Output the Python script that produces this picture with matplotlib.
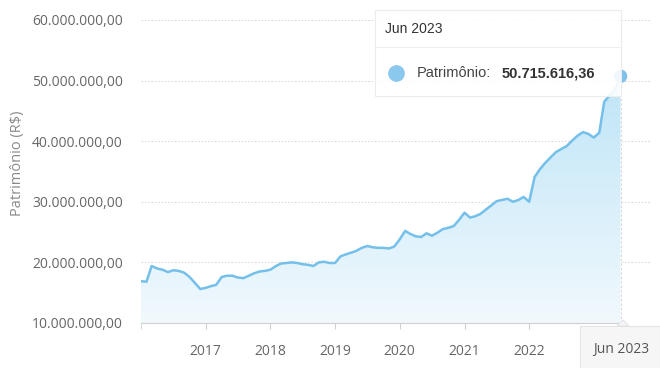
import datetime as dt

import matplotlib
matplotlib.use("Agg")
import matplotlib.pyplot as plt
import matplotlib.dates as mdates
import numpy as np
from matplotlib.lines import Line2D
from matplotlib.patches import FancyBboxPatch, Polygon
from matplotlib.ticker import FuncFormatter

# Patrimônio mensal (milhões de R$), jan/2016 a jun/2023
months = [dt.date(2016 + i // 12, i % 12 + 1, 1) for i in range(90)]
patrimonio_mi = [
    16.9, 16.8, 19.4, 19.0, 18.8, 18.4, 18.7, 18.6, 18.3, 17.6, 16.6, 15.6,
    15.8, 16.1, 16.3, 17.6, 17.8, 17.8, 17.5, 17.4, 17.8, 18.2, 18.5, 18.6,
    18.8, 19.4, 19.8, 19.9, 20.0, 19.9, 19.7, 19.6, 19.4, 20.0, 20.1, 19.9,
    19.9, 21.0, 21.3, 21.6, 21.9, 22.4, 22.7, 22.5, 22.4, 22.4, 22.3, 22.6,
    23.8, 25.2, 24.7, 24.3, 24.2, 24.8, 24.4, 24.9, 25.5, 25.7, 26.0, 27.0,
    28.2, 27.4, 27.6, 28.0, 28.7, 29.4, 30.1, 30.3, 30.5, 30.0, 30.3, 30.8,
    30.0, 34.1, 35.3, 36.4, 37.3, 38.2, 38.7, 39.2, 40.1, 40.9, 41.5, 41.2,
    40.6, 41.4, 46.5, 47.6, 48.5, 50.71561636,
]
year_ticks = [2017, 2018, 2019, 2020, 2021, 2022]
y_ticks = [10e6, 20e6, 30e6, 40e6, 50e6, 60e6]

values = np.array(patrimonio_mi) * 1e6
xs = mdates.date2num(months)
last_label = "Jun 2023"
last_value = "50.715.616,36"

LINE = "#74c0ea"
GRID = "#dcdcdc"
TEXT = "#666666"


def brl(v, _pos=None):
    s = f"{v:,.2f}"
    return s.replace(",", "X").replace(".", ",").replace("X", ".")


def fx(px):
    return px / 660


def fy(py):
    return 1 - py / 368


fig = plt.figure(figsize=(6.6, 3.68), dpi=100)
ax = fig.add_axes([0.2136, 0.1223, 0.7714, 0.8234])

x_right = mdates.date2num(dt.date(2023, 11, 15))
ax.set_xlim(xs[0], x_right)
ax.set_ylim(10e6, 60e6)

# gradient area under the line
grad = np.linspace(0, 1, 256).reshape(-1, 1, 1)
top = np.array(matplotlib.colors.to_rgb("#bde4f7"))
bot = np.array(matplotlib.colors.to_rgb("#f1f9fd"))
img = top * (1 - grad) + bot * grad
im = ax.imshow(img, extent=[xs[0], xs[-1], 10e6, 52e6], aspect="auto",
               origin="upper", zorder=1)
poly = Polygon(np.column_stack([np.r_[xs, xs[-1], xs[0]],
                                np.r_[values, 10e6, 10e6]]),
               closed=True, transform=ax.transData, facecolor="none",
               edgecolor="none")
ax.add_patch(poly)
im.set_clip_path(poly)

ax.plot(xs, values, color=LINE, lw=1.8, zorder=3, solid_joinstyle="round")
ax.scatter([xs[-1]], [values[-1]], s=95, color="#7ec0ea", zorder=5,
           clip_on=False, edgecolors="none")

# crosshair at the hovered point
ax.axvline(xs[-1], color="#d8d8d8", lw=0.8, ls=(0, (2, 2)), zorder=2)

ax.set_yticks(y_ticks)
ax.yaxis.set_major_formatter(FuncFormatter(brl))
ax.grid(axis="y", color=GRID, lw=0.8, ls=(0, (1.5, 1.5)))
ax.set_axisbelow(True)

ax.set_xticks([mdates.date2num(dt.date(y, 1, 1)) for y in year_ticks])
ax.set_xticklabels([str(y) for y in year_ticks])
ax.set_xticks([xs[0]], minor=True)

for side in ("top", "right", "left"):
    ax.spines[side].set_visible(False)
ax.spines["bottom"].set_color("#cfcfcf")
ax.spines["bottom"].set_bounds(xs[0], xs[-1] + 3)
ax.tick_params(axis="y", length=0, pad=13, labelsize=10, labelcolor=TEXT)
ax.tick_params(axis="x", which="both", length=4, color="#cfcfcf",
               pad=11, labelsize=10, labelcolor=TEXT)
for lab in ax.get_yticklabels() + ax.get_xticklabels():
    lab.set_fontfamily("Open Sans")

fig.text(fx(18), fy(163), "Patrimônio (R$)", rotation=90, ha="center",
         va="center", fontsize=10.5, color="#8a8a8a", family="Open Sans")

# tooltip box
fig.patches.append(FancyBboxPatch(
    (fx(375), fy(96)), fx(621 - 375), (96 - 10) / 368,
    boxstyle="square,pad=0", transform=fig.transFigure,
    facecolor=(1, 1, 1, 0.9), edgecolor="#ececec", lw=0.8, zorder=10))
fig.add_artist(Line2D([fx(375), fx(621)], [fy(47)] * 2,
                      transform=fig.transFigure, color="#efefef", lw=0.8,
                      zorder=11))
fig.text(fx(385), fy(29), last_label, ha="left", va="center",
         fontsize=10, color="#333333", family="Liberation Sans", zorder=12)
fig.add_artist(Line2D([fx(396)], [fy(73)], marker="o", markersize=11,
                      color="#8ac8ee", lw=0, transform=fig.transFigure,
                      zorder=12))
fig.text(fx(417), fy(73), "Patrimônio:", ha="left", va="center",
         fontsize=10.5, color="#444444", family="Liberation Sans", zorder=12)
fig.text(fx(502), fy(73), last_value, ha="left", va="center",
         fontsize=10.5, color="#333333", family="Liberation Sans",
         weight="bold", zorder=12)

# x-axis label for the hovered month
fig.patches.append(FancyBboxPatch(
    (fx(580), 0), fx(80), 42 / 368, boxstyle="square,pad=0",
    transform=fig.transFigure, facecolor="#f6f6f6", edgecolor="#e4e4e4",
    lw=0.8, zorder=10))
fig.add_artist(Polygon([(fx(617), 42 / 368), (fx(623), 48 / 368),
                        (fx(629), 42 / 368)], closed=True,
                       transform=fig.transFigure, facecolor="#f6f6f6",
                       edgecolor="#e4e4e4", lw=0.8, zorder=11))
fig.text(fx(621), fy(350), last_label, ha="center", va="center",
         fontsize=10, color="#555555", family="Open Sans", zorder=12)

fig.savefig("out.png", dpi=100)
